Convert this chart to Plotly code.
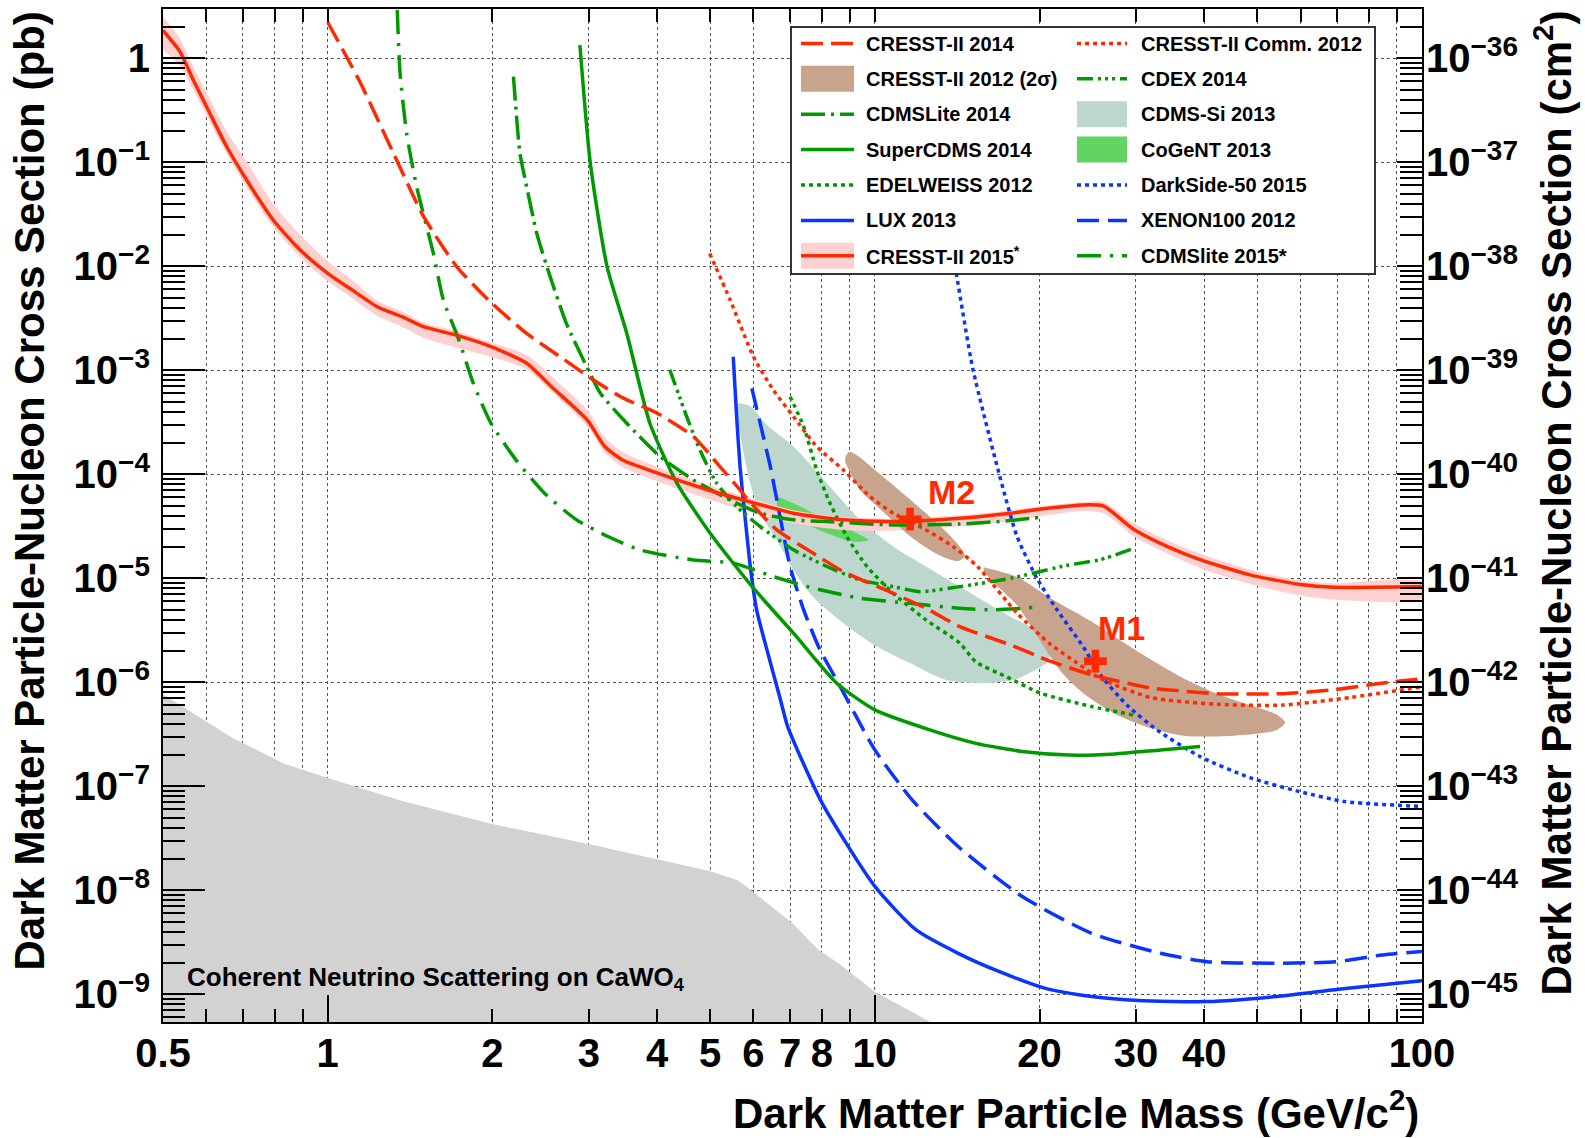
import math
import plotly.graph_objects as go

# ---------------- data (GeV, pb) ----------------
cr15_x = [0.5, 0.537, 0.568, 0.609, 0.654, 0.711, 0.795, 0.89, 1.0, 1.108, 1.231, 1.367, 1.496, 1.711,
          1.988, 2.31, 2.565, 2.98, 3.21, 3.46, 4.02, 4.96, 5.75, 7.1, 8.76, 10.8, 14.3, 17.7, 20.0,
          24.1, 26.2, 29.7, 34.2, 39.3, 48.5, 59.9, 68.9, 100]
cr15_y = [1.85, 1.16, 0.619, 0.296, 0.141, 0.0676, 0.0279, 0.0144, 8.57e-3, 5.93e-3, 4.09e-3, 3.28e-3,
          2.63e-3, 2.19e-3, 1.69e-3, 1.17e-3, 6.96e-4, 3.33e-4, 1.85e-4, 1.37e-4, 1.02e-4, 7.07e-5,
          5.66e-5, 4.23e-5, 3.65e-5, 3.51e-5, 3.78e-5, 4.23e-5, 4.62e-5, 5.08e-5, 4.94e-5, 2.97e-5,
          2.03e-5, 1.51e-5, 1.08e-5, 8.73e-6, 8.2e-6, 8.36e-6]
cr15_hi = [2.53, 1.55, 0.828, 0.405, 0.197, 0.101, 0.0399, 0.0201, 0.0112, 7.42e-3, 4.68e-3, 3.67e-3,
           2.88e-3, 2.40e-3, 1.85e-3, 1.40e-3, 8.71e-4, 4.17e-4, 2.26e-4, 1.64e-4, 1.17e-4, 7.90e-5,
           6.19e-5, 4.52e-5, 3.90e-5, 3.75e-5, 4.04e-5, 4.52e-5, 4.94e-5, 5.43e-5, 5.40e-5, 3.40e-5,
           2.32e-5, 1.73e-5, 1.21e-5, 9.55e-6, 8.97e-6, 9.15e-6]
cr15_lo = [1.21, 0.848, 0.495, 0.247, 0.121, 0.0578, 0.0239, 0.0123, 7.17e-3, 4.96e-3, 3.34e-3, 2.62e-3,
           2.06e-3, 1.67e-3, 1.35e-3, 1.02e-3, 6.23e-4, 2.91e-4, 1.62e-4, 1.17e-4, 8.53e-5, 5.78e-5,
           4.52e-5, 3.38e-5, 2.92e-5, 2.87e-5, 3.16e-5, 3.54e-5, 3.95e-5, 4.44e-5, 4.23e-5, 2.54e-5,
           1.74e-5, 1.26e-5, 8.83e-6, 6.83e-6, 6.27e-6, 6.39e-6]

cr14_x = [1.0, 1.145, 1.317, 1.496, 1.722, 1.995, 2.31, 2.66, 3.06, 3.47, 4.0, 4.66, 5.14, 5.67, 5.83,
          6.62, 7.72, 8.76, 10.8, 12.4, 14.3, 17.7, 20.9, 24.8, 31.9, 42.2, 55.8, 68.9, 85.1, 100]
cr14_y = [2.22, 0.594, 0.124, 0.0303, 9.89e-3, 4.42e-3, 2.26e-3, 1.35e-3, 8.07e-4, 5.40e-4, 3.87e-4,
          2.31e-4, 1.29e-4, 7.07e-5, 5.89e-5, 2.92e-5, 1.74e-5, 1.16e-5, 7.18e-6, 5.15e-6, 3.43e-6,
          2.29e-6, 1.60e-6, 1.19e-6, 8.85e-7, 7.78e-7, 7.78e-7, 8.48e-7, 9.87e-7, 1.08e-6]

crc12_x = [4.99, 5.44, 6.0, 6.52, 7.10, 7.83, 8.76, 9.80, 10.8, 12.4, 13.9, 15.4, 18.2, 20.9, 23.4,
           25.8, 31.9, 42.2, 55.8, 73.9, 100]
crc12_y = [0.0133, 4.74e-3, 1.35e-3, 6.48e-4, 3.59e-4, 1.85e-4, 1.10e-4, 6.10e-5, 4.23e-5, 2.92e-5,
           2.02e-5, 1.30e-5, 4.61e-6, 2.34e-6, 1.54e-6, 1.09e-6, 7.15e-7, 6.14e-7, 6.04e-7, 7.15e-7,
           9.06e-7]

cdmslite14_x = [2.185, 2.246, 2.31, 2.41, 2.55, 2.73, 2.975, 3.15, 3.52, 4.05, 4.66, 5.36, 6.17, 7.10,
                8.17, 10.8, 14.3, 17.7, 20.0]
cdmslite14_y = [0.667, 0.122, 0.0583, 0.0208, 7.96e-3, 2.83e-3, 1.08e-3, 6.02e-4, 3.10e-4, 1.48e-4,
                8.83e-5, 5.89e-5, 4.23e-5, 3.65e-5, 3.51e-5, 3.26e-5, 3.33e-5, 3.59e-5, 3.85e-5]

scdms_x = [2.89, 3.02, 3.24, 3.52, 3.88, 4.35, 5.0, 6.0, 7.10, 8.52, 10.0, 12.6, 15.3, 18.6, 22.6,
           27.5, 33.3, 39.3]
scdms_y = [1.34, 0.0978, 9.93e-3, 2.27e-3, 3.10e-4, 8.19e-5, 2.71e-5, 8.03e-6, 2.97e-6, 9.80e-7,
           5.43e-7, 3.49e-7, 2.59e-7, 2.16e-7, 2.0e-7, 2.05e-7, 2.24e-7, 2.41e-7]

edw_x = [7.0, 7.41, 7.83, 8.28, 8.89, 9.67, 10.8, 12.4, 14.3, 15.3, 17.4, 20.1, 24.9, 29.7]
edw_y = [5.58e-4, 2.88e-4, 1.10e-4, 5.27e-5, 2.51e-5, 1.30e-5, 7.18e-6, 3.98e-6, 2.38e-6, 1.57e-6,
         1.13e-6, 7.85e-7, 5.85e-7, 4.85e-7]

cdex_x = [4.22, 4.53, 4.79, 5.14, 5.59, 6.17, 7.10, 8.17, 9.40, 10.8, 12.1, 14.3, 17.7, 22.4, 25.8, 29.5]
cdex_y = [1.01e-3, 3.59e-4, 1.71e-4, 8.19e-5, 4.89e-5, 3.15e-5, 1.88e-5, 1.30e-5, 9.64e-6, 8.32e-6,
          7.44e-6, 8.32e-6, 1.0e-5, 1.33e-5, 1.51e-5, 1.91e-5]

cdmslite15_x = [1.34, 1.356, 1.394, 1.454, 1.56, 1.627, 1.737, 1.845, 1.988, 2.21, 2.49, 2.85, 3.26,
                3.73, 4.66, 5.51, 6.52, 7.72, 9.40, 11.6, 14.3, 16.5, 19.5]
cdmslite15_y = [2.91, 0.718, 0.190, 0.0583, 0.0133, 4.74e-3, 1.96e-3, 7.51e-4, 3.10e-4, 1.37e-4,
                6.58e-5, 3.65e-5, 2.51e-5, 1.87e-5, 1.50e-5, 1.40e-5, 1.04e-5, 8.03e-6, 6.44e-6,
                5.75e-6, 5.15e-6, 4.97e-6, 5.24e-6]

lux_x = [5.51, 5.59, 5.67, 5.79, 5.92, 6.08, 6.35, 6.71, 6.93, 8.01, 10.0, 11.9, 14.2, 16.9, 20.5,
         24.9, 30.3, 40.5, 54.2, 72.4, 100]
lux_y = [1.35e-3, 3.59e-4, 1.19e-4, 3.92e-5, 1.30e-5, 4.97e-6, 2.05e-6, 7.04e-7, 3.75e-7, 6.89e-8,
         1.09e-8, 4.16e-9, 2.48e-9, 1.65e-9, 1.14e-9, 9.52e-10, 8.71e-10, 8.51e-10, 9.52e-10,
         1.14e-9, 1.35e-9]

xenon_x = [5.96, 6.17, 6.44, 6.71, 7.0, 7.41, 7.94, 8.58, 10.0, 11.7, 14.2, 18.6, 24.9, 33.3, 40.5,
           54.2, 69.7, 84.6, 100]
xenon_y = [6.71e-4, 3.10e-4, 1.19e-4, 3.92e-5, 1.30e-5, 4.97e-6, 2.05e-6, 9.80e-7, 2.24e-7, 7.41e-8,
           2.64e-8, 8.71e-9, 3.86e-9, 2.48e-9, 2.06e-9, 1.99e-9, 2.06e-9, 2.39e-9, 2.58e-9]

ds50_x = [13.4, 14.1, 15.1, 16.9, 18.2, 19.8, 21.5, 24.1, 25.8, 28.9, 32.8, 39.3, 48.5, 59.7, 72.4, 100]
ds50_y = [0.0414, 8.32e-3, 1.04e-3, 9.75e-5, 2.51e-5, 9.89e-6, 5.02e-6, 2.15e-6, 1.19e-6, 6.03e-7,
          3.48e-7, 1.93e-7, 1.21e-7, 8.9e-8, 7.13e-8, 6.4e-8]

# CRESST-II 2012 (2 sigma) contours
m2_x = [8.83, 8.98, 9.37, 10.2, 11.7, 13.5, 14.3, 14.6, 14.2, 13.2, 11.7, 10.2, 9.37, 8.98, 8.83]
m2_y = [1.47e-4, 1.65e-4, 1.47e-4, 1.01e-4, 5.5e-5, 2.81e-5, 2.01e-5, 1.64e-5, 1.47e-5, 1.64e-5,
        2.46e-5, 4.70e-5, 7.19e-5, 1.08e-4, 1.29e-4]
m1_x = [15.8, 18.2, 20.9, 24.8, 27.7, 31.9, 36.7, 42.2, 48.5, 54.3, 56.2, 54.3, 45.3, 36.7, 31.9, 27.7,
        24.1, 21.8, 20.0, 18.2, 16.5, 15.8]
m1_y = [1.28e-5, 1.03e-5, 6.48e-6, 3.89e-6, 2.66e-6, 1.67e-6, 1.09e-6, 7.78e-7, 6.03e-7, 4.89e-7,
        4.12e-7, 3.48e-7, 3.07e-7, 3.07e-7, 3.64e-7, 4.89e-7, 7.78e-7, 1.30e-6, 2.55e-6, 5.47e-6,
        9.08e-6, 1.17e-5]

cdmssi_x = [5.62, 5.92, 6.35, 7.10, 8.17, 9.40, 10.8, 12.4, 14.3, 17.7, 20.0, 20.9, 20.6, 19.3, 17.9,
            15.6, 13.5, 11.6, 10.1, 8.76, 7.72, 7.10, 6.62, 6.17, 5.92, 5.71, 5.58]
cdmssi_y = [4.82e-4, 4.52e-4, 2.98e-4, 1.85e-4, 8.19e-5, 3.65e-5, 2.02e-5, 1.30e-5, 8.32e-6, 4.28e-6,
            2.97e-6, 1.77e-6, 1.53e-6, 1.25e-6, 1.05e-6, 9.80e-7, 1.05e-6, 1.53e-6, 2.20e-6, 3.70e-6,
            6.56e-6, 1.20e-5, 2.34e-5, 4.23e-5, 8.19e-5, 1.99e-4, 4.51e-4]

cogent_x = [6.62, 7.10, 8.17, 9.40, 9.73, 9.14, 8.17, 7.30, 6.71, 6.62]
cogent_y = [6.10e-5, 5.27e-5, 3.65e-5, 2.61e-5, 2.34e-5, 2.25e-5, 2.71e-5, 3.51e-5, 4.23e-5, 5.27e-5]

nu_x = [0.5, 0.565, 0.67, 0.829, 1.0, 1.38, 1.99, 2.995, 3.98, 4.99, 5.60, 5.82, 7.07, 7.89, 8.58,
        10.0, 12.6]
nu_y = [7.66e-7, 5.12e-7, 2.92e-7, 1.67e-7, 1.20e-7, 7.15e-8, 4.37e-8, 2.79e-8, 2.0e-8, 1.53e-8,
        1.26e-8, 1.09e-8, 4.82e-9, 2.67e-9, 1.99e-9, 1.06e-9, 5.47e-10]
nu_floor = 1e-10

bench_x = [25.3, 11.6]
bench_y = [1.6e-6, 3.7e-5]

x_tickvals = [0.5, 1, 2, 3, 4, 5, 6, 7, 8, 10, 20, 30, 40, 100]
x_ticktext = ["0.5", "1", "2", "3", "4", "5", "6", "7", "8", "10", "20", "30", "40", "100"]
x_minorvals = [0.6, 0.7, 0.8, 0.9, 9, 50, 60, 70, 80, 90]
x_longticks = [1, 10, 100]
y_exps = [0, -1, -2, -3, -4, -5, -6, -7, -8, -9]
y2_exps = [-36, -37, -38, -39, -40, -41, -42, -43, -44, -45]

# ---------------- style ----------------
W, H = 1585, 1138
ML, MR, MT, MB = 163, 163, 9, 116
PW, PH = W - ML - MR, H - MT - MB
FONT = "Liberation Sans, Arial, Helvetica, sans-serif"

RED = "#ff2a00"
GREEN = "#009a00"
BLUE = "#0a34ff"
PINK = "#ffd0d0"
BROWN = "#c9a48c"
TEAL = "#bdd7cf"
LGREEN = "#62d462"
GREY = "#d2d2d2"
GRID = "#555555"

LW = 3.5
D_CR14 = "22px,8px"
D_DOT = "4px,4px"
D_LITE14 = "24px,6px,3px,6px"
D_LITE15 = "24px,9px,3px,9px"
D_CDEX = "16px,5px,3px,4px,3px,4px,3px,5px"
D_XE = "22px,9px"


def pxx(x):
    return (x - ML) / PW


def pyy(y):
    return (H - MB - y) / PH


fig = go.Figure()


def fill_poly(xs, ys, color, smooth=True):
    fig.add_trace(go.Scatter(x=xs, y=ys, mode="lines", fill="toself", fillcolor=color,
                             line=dict(width=0, color=color, shape="spline" if smooth else "linear",
                                       smoothing=0.8),
                             hoverinfo="skip", showlegend=False))


def line(xs, ys, color, dash="solid", width=LW):
    fig.add_trace(go.Scatter(x=xs, y=ys, mode="lines",
                             line=dict(color=color, width=width, dash=dash, shape="spline", smoothing=0.6),
                             hoverinfo="skip", showlegend=False))


# fills
fill_poly(nu_x + [nu_x[-1], nu_x[0]], nu_y + [nu_floor, nu_floor], GREY, smooth=False)
fill_poly(cdmssi_x, cdmssi_y, TEAL)
fill_poly(cogent_x, cogent_y, LGREEN)
fill_poly(cr15_x + cr15_x[::-1], cr15_hi + cr15_lo[::-1], PINK)
fill_poly(m2_x, m2_y, BROWN)
fill_poly(m1_x, m1_y, BROWN)

# lines
line(lux_x, lux_y, BLUE)
line(xenon_x, xenon_y, BLUE, D_XE)
line(ds50_x, ds50_y, BLUE, D_DOT)
line(scdms_x, scdms_y, GREEN)
line(edw_x, edw_y, GREEN, D_DOT)
line(cdex_x, cdex_y, GREEN, D_CDEX)
line(cdmslite14_x, cdmslite14_y, GREEN, D_LITE14)
line(cdmslite15_x, cdmslite15_y, GREEN, D_LITE15)
line(crc12_x, crc12_y, RED, D_DOT)
line(cr14_x, cr14_y, RED, D_CR14)
line(cr15_x, cr15_y, RED)

fig.add_trace(go.Scatter(x=bench_x, y=bench_y, mode="markers",
                         marker=dict(symbol="cross", size=19, color=RED, line=dict(width=0)),
                         hoverinfo="skip", showlegend=False))

# invisible anchors so that the overlaying axes get drawn
fig.add_trace(go.Scatter(x=[1], y=[1e-5], xaxis="x2", yaxis="y", mode="markers",
                         marker=dict(opacity=0), hoverinfo="skip", showlegend=False))
fig.add_trace(go.Scatter(x=[1], y=[1e-41], xaxis="x", yaxis="y2", mode="markers",
                         marker=dict(opacity=0), hoverinfo="skip", showlegend=False))

# ---------------- axes ----------------
axis_font = dict(family=FONT, size=40, color="black", weight="bold")
xr = [-0.30103, 2.0]
yr = [-9.266, 0.474]

fig.update_layout(
    width=W, height=H,
    margin=dict(l=ML, r=MR, t=MT, b=MB, pad=0, autoexpand=False),
    paper_bgcolor="white", plot_bgcolor="white",
    showlegend=False,
    xaxis=dict(type="log", range=xr, tickmode="array", tickvals=x_tickvals, ticktext=x_ticktext,
               ticks="inside", ticklen=13, tickwidth=1.5, tickcolor="black",
               minor=dict(tickmode="array", tickvals=x_minorvals, ticks="inside", ticklen=13,
                          tickwidth=1.5, tickcolor="black", showgrid=True, gridcolor=GRID,
                          griddash="dot", gridwidth=1),
               showline=True, linecolor="black", linewidth=2, mirror="ticks",
               showgrid=True, gridcolor=GRID, griddash="dot", gridwidth=1,
               zeroline=False, tickfont=axis_font, ticklabelstandoff=-5, automargin=False),
    xaxis2=dict(type="log", range=xr, overlaying="x", anchor="y", side="bottom",
                tickmode="array", tickvals=x_longticks, ticks="inside", ticklen=27, tickwidth=1.5,
                tickcolor="black", showticklabels=False, showgrid=False, showline=False,
                zeroline=False, automargin=False),
    yaxis=dict(type="log", range=yr, tickmode="array", tickvals=[10.0 ** e for e in y_exps],
               ticktext=["1"] + ["10<sup>\u2212%d</sup>" % (-e) for e in y_exps[1:]],
               ticks="inside", ticklen=42, tickwidth=1.5, tickcolor="black",
               minor=dict(ticks="inside", ticklen=22, tickwidth=1.5, tickcolor="black",
                          dtick="D1", showgrid=False),
               showline=True, linecolor="black", linewidth=2, mirror=True,
               showgrid=True, gridcolor=GRID, griddash="dot", gridwidth=1,
               zeroline=False, tickfont=axis_font, ticklabelstandoff=3, automargin=False),
    yaxis2=dict(type="log", range=[yr[0] - 36, yr[1] - 36], overlaying="y", anchor="x", side="right",
                tickmode="array", tickvals=[10.0 ** e for e in y2_exps],
                ticktext=["10<sup>\u2212%d</sup>" % (-e) for e in y2_exps],
                ticks="inside", ticklen=25, tickwidth=1.5, tickcolor="black",
                minor=dict(ticks="inside", ticklen=22, tickwidth=1.5, tickcolor="black",
                           dtick="D1", showgrid=False),
                showgrid=False, showline=False, zeroline=False, tickfont=axis_font,
                ticklabelstandoff=3, automargin=False),
)

ann = []
title_font = dict(family=FONT, size=42, color="black", weight="bold")
ann.append(dict(text="Dark Matter Particle Mass (GeV/c<sup>2</sup>)", xref="paper", yref="paper",
                x=pxx(1421), y=pyy(1110), xanchor="right", yanchor="middle", showarrow=False,
                font=title_font))
ann.append(dict(text="Dark Matter Particle-Nucleon Cross Section (pb)", xref="paper", yref="paper",
                x=pxx(29), y=pyy(10), xanchor="center", yanchor="top", textangle=-90, showarrow=False,
                font=title_font))
ann.append(dict(text="Dark Matter Particle-Nucleon Cross Section (cm<sup>2</sup>)", xref="paper",
                yref="paper", x=pxx(1553), y=pyy(9), xanchor="center", yanchor="top", textangle=-90,
                showarrow=False, font=title_font))
ann.append(dict(text="Coherent Neutrino Scattering on CaWO<sub>4</sub>", xref="paper", yref="paper",
                x=pxx(185), y=pyy(978), xanchor="left", yanchor="middle", showarrow=False,
                font=dict(family=FONT, size=26, color="black", weight="bold")))
# benchmark labels (data coords, log units)
ann.append(dict(text="M2", x=math.log10(13.8), y=math.log10(6.7e-5), xref="x", yref="y",
                showarrow=False, font=dict(family=FONT, size=34, color=RED, weight="bold")))
ann.append(dict(text="M1", x=math.log10(28.2), y=math.log10(3.3e-6), xref="x", yref="y",
                showarrow=False, font=dict(family=FONT, size=34, color=RED, weight="bold")))

# ---------------- manual legend ----------------
shapes = []
shapes.append(dict(type="rect", xref="paper", yref="paper", x0=pxx(791), x1=pxx(1375), y0=pyy(274),
                   y1=pyy(27), line=dict(color="#333333", width=2), fillcolor="white", layer="above"))
rows = [43.5, 78.8, 114.2, 149.6, 185, 220.4, 255.7]
cols = [(801, 854, 864), (1077, 1127, 1139)]
entries = [
    [("CRESST-II 2014", "line", RED, D_CR14),
     ("CRESST-II 2012 (2\u03c3)", "fill", BROWN, None),
     ("CDMSLite 2014", "line", GREEN, D_LITE14),
     ("SuperCDMS 2014", "line", GREEN, "solid"),
     ("EDELWEISS 2012", "line", GREEN, D_DOT),
     ("LUX 2013", "line", BLUE, "solid"),
     ("CRESST-II 2015<sup>*</sup>", "band", RED, "solid")],
    [("CRESST-II Comm. 2012", "line", RED, D_DOT),
     ("CDEX 2014", "line", GREEN, D_CDEX),
     ("CDMS-Si 2013", "fill", TEAL, None),
     ("CoGeNT 2013", "fill", LGREEN, None),
     ("DarkSide-50 2015", "line", BLUE, D_DOT),
     ("XENON100 2012", "line", BLUE, D_XE),
     ("CDMSlite 2015*", "line", GREEN, D_LITE15)],
]
leg_font = dict(family=FONT, size=20, color="black", weight="bold")
for ci, col in enumerate(entries):
    sx0, sx1, tx = cols[ci]
    for ri, (label, kind, color, dash) in enumerate(col):
        yc = rows[ri]
        if kind in ("fill", "band"):
            fc = PINK if kind == "band" else color
            shapes.append(dict(type="rect", xref="paper", yref="paper", x0=pxx(sx0), x1=pxx(sx1),
                               y0=pyy(yc + 13), y1=pyy(yc - 13), line=dict(width=0), fillcolor=fc,
                               layer="above"))
        if kind in ("line", "band"):
            shapes.append(dict(type="line", xref="paper", yref="paper", x0=pxx(sx0), x1=pxx(sx1),
                               y0=pyy(yc), y1=pyy(yc), line=dict(color=color, width=LW, dash=dash),
                               layer="above"))
        ann.append(dict(text=label, xref="paper", yref="paper", x=pxx(tx), y=pyy(yc), xanchor="left",
                        yanchor="middle", showarrow=False, font=leg_font))

fig.update_layout(annotations=ann, shapes=shapes)
fig.write_html("out.html", config={"displayModeBar": False},
               post_script="document.body.style.margin='0';document.body.style.overflow='hidden';")
